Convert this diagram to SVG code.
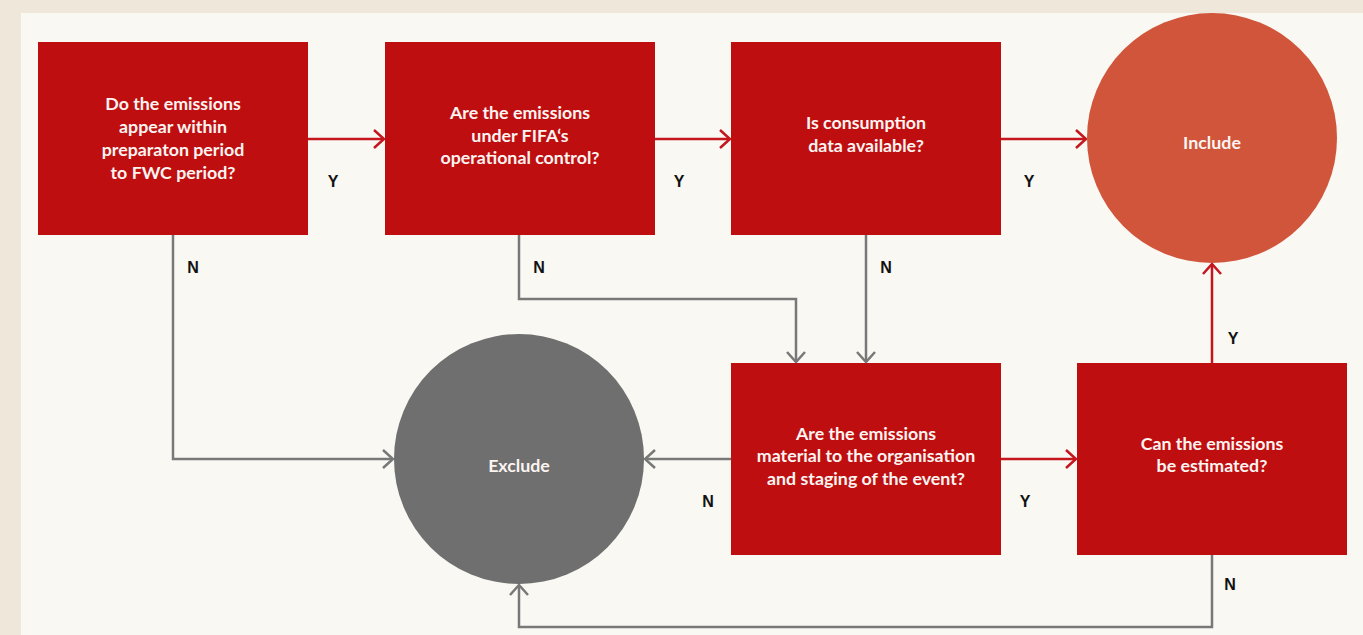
<svg xmlns="http://www.w3.org/2000/svg" width="1363" height="635" viewBox="0 0 1363 635">
<defs>
<style>
.box{fill:#BF0E10}
.t{font-family:Lato,"Open Sans","Liberation Sans",sans-serif;font-weight:700;font-size:17.8px;fill:#FBF4F1;text-anchor:middle}
.lab{font-family:"Liberation Sans",Arial,sans-serif;font-weight:700;font-size:16px;fill:#111;text-anchor:middle}
.r{fill:none;stroke:#C4161C;stroke-width:2.5}
.g{fill:none;stroke:#787878;stroke-width:2.5}
</style>
<marker id="ar" viewBox="0 0 12 20" refX="11" refY="10" markerWidth="12" markerHeight="20" markerUnits="userSpaceOnUse" orient="auto">
<path d="M1,1 L11,10 L1,19" fill="none" stroke="#C4161C" stroke-width="2.5"/>
</marker>
<marker id="ag" viewBox="0 0 12 20" refX="11" refY="10" markerWidth="12" markerHeight="20" markerUnits="userSpaceOnUse" orient="auto">
<path d="M1,1 L11,10 L1,19" fill="none" stroke="#787878" stroke-width="2.5"/>
</marker>
</defs>
<rect x="0" y="0" width="1363" height="635" fill="#EEE7DA"/>
<rect x="21" y="13" width="1342" height="622" fill="#F9F8F3"/>

<g id="connectors">
<path class="r" d="M308,139 H384" marker-end="url(#ar)"/>
<path class="r" d="M655,139 H730" marker-end="url(#ar)"/>
<path class="r" d="M1001,139 H1086" marker-end="url(#ar)"/>
<path class="g" d="M173,235 V459 H393" marker-end="url(#ag)"/>
<path class="g" d="M519,235 V299 H796 V362" marker-end="url(#ag)"/>
<path class="g" d="M866,235 V362" marker-end="url(#ag)"/>
<path class="g" d="M731,459 H645" marker-end="url(#ag)"/>
<path class="r" d="M1001,459 H1076" marker-end="url(#ar)"/>
<path class="r" d="M1212,363 V264" marker-end="url(#ar)"/>
<path class="g" d="M1212,555 V627 H519 V585" marker-end="url(#ag)"/>
<text class="lab" x="333" y="187">Y</text>
<text class="lab" x="679" y="187">Y</text>
<text class="lab" x="1029" y="187">Y</text>
<text class="lab" x="193" y="273">N</text>
<text class="lab" x="539" y="273">N</text>
<text class="lab" x="886" y="273">N</text>
<text class="lab" x="1233" y="344">Y</text>
<text class="lab" x="708" y="507">N</text>
<text class="lab" x="1025" y="507">Y</text>
<text class="lab" x="1230" y="590">N</text>
</g>

<g id="q1">
<rect class="box" x="38" y="42" width="270" height="193"/>
<text class="t" x="173" y="110">Do the emissions</text>
<text class="t" x="173" y="133">appear within</text>
<text class="t" x="173" y="156">preparaton period</text>
<text class="t" x="173" y="179">to FWC period?</text>
</g>
<g id="q2">
<rect class="box" x="385" y="42" width="270" height="193"/>
<text class="t" x="520" y="119">Are the emissions</text>
<text class="t" x="520" y="142">under FIFA‘s</text>
<text class="t" x="520" y="164">operational control?</text>
</g>
<g id="q3">
<rect class="box" x="731" y="42" width="270" height="193"/>
<text class="t" x="866" y="129">Is consumption</text>
<text class="t" x="866" y="152">data available?</text>
</g>
<g id="include">
<circle cx="1212" cy="138" r="125" fill="#D0553A"/>
<text class="t" x="1212" y="149">Include</text>
</g>
<g id="exclude">
<circle cx="519" cy="459" r="125" fill="#6F6F6F"/>
<text class="t" x="519" y="472">Exclude</text>
</g>
<g id="q4">
<rect class="box" x="731" y="363" width="270" height="192"/>
<text class="t" x="866" y="440">Are the emissions</text>
<text class="t" x="866" y="462">material to the organisation</text>
<text class="t" x="866" y="485">and staging of the event?</text>
</g>
<g id="q5">
<rect class="box" x="1077" y="363" width="270" height="192"/>
<text class="t" x="1212" y="450">Can the emissions</text>
<text class="t" x="1212" y="472">be estimated?</text>
</g>
</svg>
